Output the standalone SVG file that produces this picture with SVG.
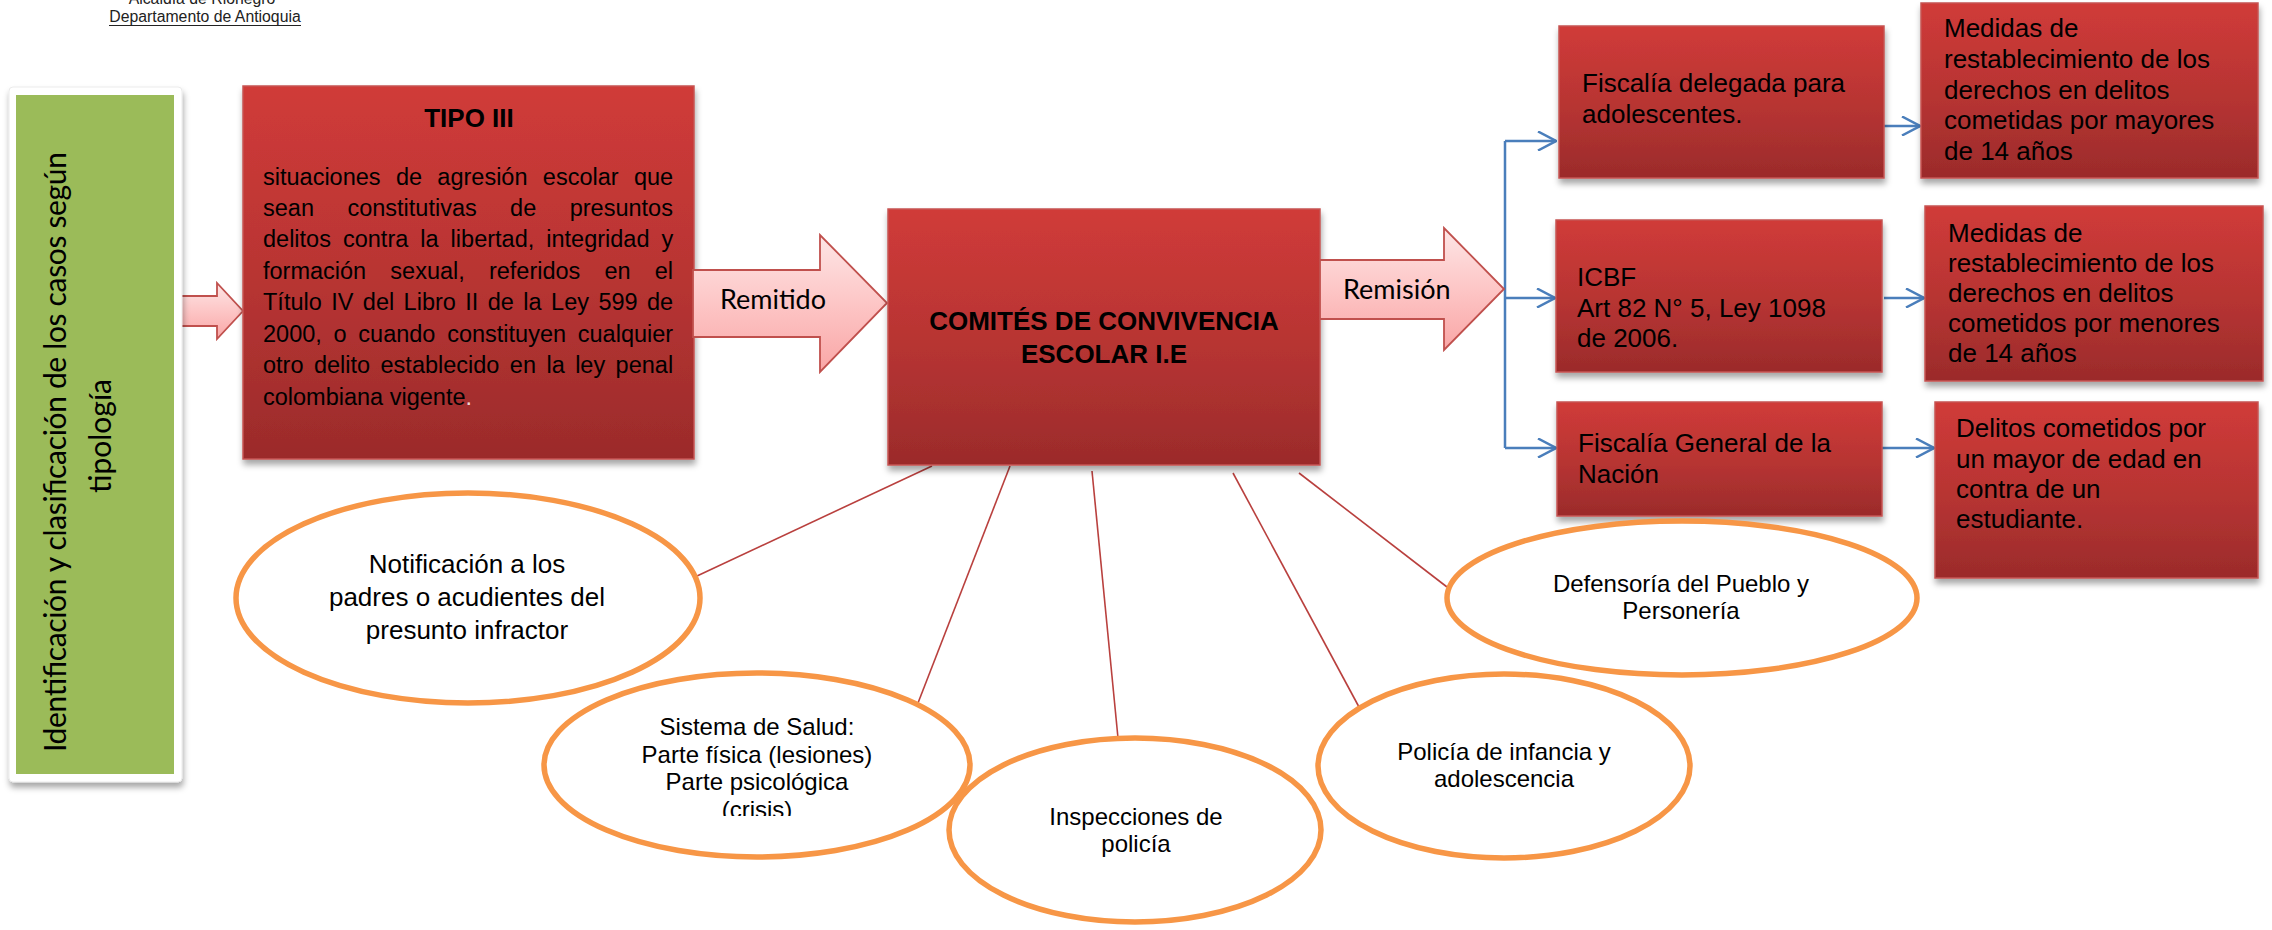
<svg xmlns="http://www.w3.org/2000/svg" width="2272" height="930" viewBox="0 0 2272 930">
<style>
.hdr{font-family:"Liberation Sans",Arial,sans-serif;font-size:15.8px;fill:#222}
.box{fill:url(#red);stroke:#c65553;stroke-width:1.5;filter:url(#sh)}
.arr{fill:url(#pink);stroke:#c0504d;stroke-width:1.8}
.t{font-family:"Liberation Sans",Arial,sans-serif;fill:#000}
.b26{font-size:26px}
.tb{font-family:"Liberation Sans",Arial,sans-serif;font-weight:bold;font-size:26px;fill:#000;text-anchor:middle}
.body{font-size:23.5px}
.cal{font-family:Lato,"Open Sans",sans-serif;fill:#000}
.ell{fill:#fff;stroke:#f79646;stroke-width:5.5}
.e24{font-family:"Liberation Sans",Arial,sans-serif;font-size:24px;fill:#000;text-anchor:middle}
.rl{stroke:#b9403e;stroke-width:1.6;fill:none}
.bl{stroke:#4a7ebb;stroke-width:2.5;fill:none}
.ba{stroke:#4a7ebb;stroke-width:2.5;fill:none;marker-end:url(#chev)}
</style>
<defs>
<linearGradient id="red" x1="0" y1="0" x2="0" y2="1">
<stop offset="0" stop-color="#d03b39"/>
<stop offset="0.55" stop-color="#b63432"/>
<stop offset="1" stop-color="#9b2b2b"/>
</linearGradient>
<linearGradient id="pink" x1="0" y1="0" x2="0" y2="1">
<stop offset="0" stop-color="#fde6e6"/>
<stop offset="0.5" stop-color="#fdc6c6"/>
<stop offset="1" stop-color="#f9a6a6"/>
</linearGradient>
<filter id="sh" x="-10%" y="-10%" width="120%" height="130%">
<feDropShadow dx="1" dy="5" stdDeviation="3" flood-color="#000" flood-opacity="0.35"/>
</filter>
<marker id="chev" viewBox="0 0 20 20" refX="19" refY="10" markerWidth="20" markerHeight="20" markerUnits="userSpaceOnUse" orient="auto">
<path d="M1,0.5 L19,10 L1,19.5" stroke="#4a7ebb" stroke-width="2.5" fill="none"/>
</marker>
<clipPath id="clipSalud"><rect x="540" y="660" width="440" height="156"/></clipPath>
</defs>
<rect width="2272" height="930" fill="#fff"/>

<g id="header">
<text class="hdr" x="202" y="4" text-anchor="middle">Alcaldía de Rionegro</text>
<text class="hdr" x="205" y="21.5" text-anchor="middle">Departamento de Antioquia</text>
<line x1="109" y1="25.5" x2="301" y2="25.5" stroke="#222" stroke-width="1"/>
</g>

<g id="connectors">
<path class="arr" d="M181,296 H217 V283 L243,311 L217,339 V326 H181 Z"/>
<path class="rl" d="M932,466 L697,576"/>
<path class="rl" d="M1010,466 L918,703"/>
<path class="rl" d="M1092,471 L1118,738"/>
<path class="rl" d="M1233,473 L1359,707"/>
<path class="rl" d="M1299,473 L1447,587"/>
<path class="bl" d="M1505,141 V448"/>
<path class="ba" d="M1505,141 H1556"/>
<path class="ba" d="M1505,298 H1555"/>
<path class="ba" d="M1505,448 H1556"/>
<path class="ba" d="M1884,126 H1920"/>
<path class="ba" d="M1884,298 H1924"/>
<path class="ba" d="M1882,448 H1934"/>
</g>

<g id="clasificacion">
<rect x="9" y="87" width="173" height="695" rx="4" fill="#fff" stroke="#e6e6e6" stroke-width="0.8" filter="url(#sh)"/>
<rect x="16" y="95" width="158" height="679" fill="#9bbb59"/>
<g transform="translate(0,452) rotate(-90)">
<text class="cal" x="0" y="66" font-size="30" text-anchor="middle" textLength="600">Identificación y clasificación de los casos según</text>
</g>
<g transform="translate(0,436) rotate(-90)">
<text class="cal" x="0" y="111" font-size="30" text-anchor="middle">tipología</text>
</g>
</g>

<g id="tipo3">
<rect class="box" x="243" y="86" width="451" height="373"/>
<text class="tb" x="469" y="127">TIPO III</text>
<text class="t body" x="263" y="185" word-spacing="8.8">situaciones de agresión escolar que</text>
<text class="t body" x="263" y="216" word-spacing="26.9">sean constitutivas de presuntos</text>
<text class="t body" x="263" y="247" word-spacing="5.5">delitos contra la libertad, integridad y</text>
<text class="t body" x="263" y="279" word-spacing="17.6">formación sexual, referidos en el</text>
<text class="t body" x="263" y="310" word-spacing="2.9">Título IV del Libro II de la Ley 599 de</text>
<text class="t body" x="263" y="342" word-spacing="5.2">2000, o cuando constituyen cualquier</text>
<text class="t body" x="263" y="373" word-spacing="3.9">otro delito establecido en la ley penal</text>
<text class="t body" x="263" y="405">colombiana vigente<tspan fill="#f0d8d8">.</tspan></text>
</g>

<g id="remitido">
<path class="arr" d="M693,270 H820 V235 L887,303 L820,372 V337 H693 Z"/>
<text class="cal" x="720" y="309" font-size="27">Remitido</text>
</g>

<g id="comites">
<rect class="box" x="888" y="209" width="432" height="256"/>
<text class="tb" x="1104" y="330">COMITÉS DE CONVIVENCIA</text>
<text class="tb" x="1104" y="363">ESCOLAR I.E</text>
</g>

<g id="remision">
<path class="arr" d="M1320,260 H1444 V228 L1504,289 L1444,350 V319 H1320 Z"/>
<text class="cal" x="1343" y="299" font-size="27">Remisión</text>
</g>

<g id="fiscalia-delegada">
<rect class="box" x="1559" y="26" width="325" height="152"/>
<text class="t b26" x="1582" y="92">Fiscalía delegada para</text>
<text class="t b26" x="1582" y="123">adolescentes.</text>
</g>

<g id="medidas-mayores">
<rect class="box" x="1921" y="3" width="337" height="175"/>
<text class="t b26" x="1944" y="37">Medidas de</text>
<text class="t b26" x="1944" y="68">restablecimiento de los</text>
<text class="t b26" x="1944" y="99">derechos en delitos</text>
<text class="t b26" x="1944" y="129">cometidas por mayores</text>
<text class="t b26" x="1944" y="160">de 14 años</text>
</g>

<g id="icbf">
<rect class="box" x="1556" y="220" width="326" height="152"/>
<text class="t b26" x="1577" y="286">ICBF</text>
<text class="t b26" x="1577" y="316.5">Art 82 N° 5, Ley 1098</text>
<text class="t b26" x="1577" y="347">de 2006.</text>
</g>

<g id="medidas-menores">
<rect class="box" x="1925" y="206" width="338" height="175"/>
<text class="t b26" x="1948" y="242">Medidas de</text>
<text class="t b26" x="1948" y="272">restablecimiento de los</text>
<text class="t b26" x="1948" y="302">derechos en delitos</text>
<text class="t b26" x="1948" y="332">cometidos por menores</text>
<text class="t b26" x="1948" y="362">de 14 años</text>
</g>

<g id="fiscalia-general">
<rect class="box" x="1557" y="402" width="325" height="114"/>
<text class="t b26" x="1578" y="452">Fiscalía General de la</text>
<text class="t b26" x="1578" y="483">Nación</text>
</g>

<g id="delitos-mayor">
<rect class="box" x="1935" y="402" width="323" height="176"/>
<text class="t b26" x="1956" y="437">Delitos cometidos por</text>
<text class="t b26" x="1956" y="468">un mayor de edad en</text>
<text class="t b26" x="1956" y="498">contra de un</text>
<text class="t b26" x="1956" y="528">estudiante.</text>
</g>

<g id="notificacion">
<ellipse class="ell" cx="468" cy="598" rx="232" ry="105"/>
<text class="t b26" x="467" y="573" text-anchor="middle">Notificación a los</text>
<text class="t b26" x="467" y="606" text-anchor="middle">padres o acudientes del</text>
<text class="t b26" x="467" y="639" text-anchor="middle">presunto infractor</text>
</g>

<g id="salud">
<ellipse class="ell" cx="757" cy="765" rx="213" ry="92"/>
<g clip-path="url(#clipSalud)">
<text class="e24" x="757" y="735" font-size="23.5">Sistema de Salud:</text>
<text class="e24" x="757" y="762.5" font-size="23.5">Parte física (lesiones)</text>
<text class="e24" x="757" y="790" font-size="23.5">Parte psicológica</text>
<text class="e24" x="757" y="818" font-size="23.5">(crisis)</text>
</g>
</g>

<g id="inspecciones">
<ellipse class="ell" cx="1135" cy="830" rx="186" ry="92"/>
<text class="e24" x="1136" y="825">Inspecciones de</text>
<text class="e24" x="1136" y="852">policía</text>
</g>

<g id="policia-infancia">
<ellipse class="ell" cx="1504" cy="766" rx="186" ry="92"/>
<text class="e24" x="1504" y="760">Policía de infancia y</text>
<text class="e24" x="1504" y="787">adolescencia</text>
</g>

<g id="defensoria">
<ellipse class="ell" cx="1682" cy="598" rx="235" ry="77"/>
<text class="e24" x="1681" y="592">Defensoría del Pueblo y</text>
<text class="e24" x="1681" y="619">Personería</text>
</g>
</svg>
